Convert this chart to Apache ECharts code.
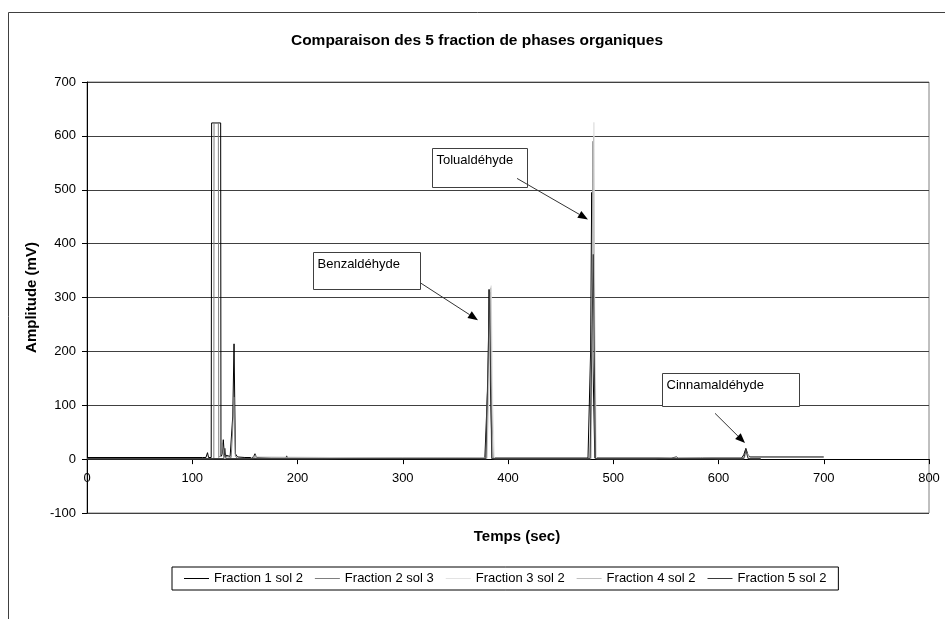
<!DOCTYPE html>
<html><head><meta charset="utf-8">
<script src="https://cdn.jsdelivr.net/npm/echarts@6/dist/echarts.min.js"></script>
<style>html,body{margin:0;padding:0;background:#fff}#c{width:945px;height:619px}</style>
</head><body><div id="c"></div>
<script>
const chartTitle = 'Comparaison des 5 fraction de phases organiques';
const xName = 'Temps (sec)';
const yName = 'Amplitude (mV)';
const seriesNames = ['Fraction 1 sol 2','Fraction 2 sol 3','Fraction 3 sol 2','Fraction 4 sol 2','Fraction 5 sol 2'];
const seriesColors = ['#000000','#7f7f7f','#e3e3e3','#c0c0c0','#3a3a3a'];
const xMin = 0, xMax = 800, xStep = 100;
const yMin = -100, yMax = 700, yStep = 100;

// [time (sec), amplitude (mV)]
const fraction1 = [[0,3],[110,3],[113,3],[114.5,12],[115.5,3],[118,3],[118.4,624],[127,624],[127.3,5],[128.5,10],[129.5,36],[130.5,8],[132,5],[136,5],[138.5,80],[139.7,214],[141,10],[143,4],[150,3],[158,3],[159.6,10],[161,3],[175,2],[189,2],[189.7,6],[190.5,2],[220,2],[300,2],[378,2],[381,150],[382,315],[383,160],[385,2],[476,2],[478.5,200],[479.5,495],[480.5,200],[482.5,2],[555,2],[560,4],[562,2],[583,2],[584,4],[585,2],[622,2],[624,8],[626,20],[628,8],[630,4],[700,4]];
const fraction2 = [[0,1],[112,1],[120.5,1],[120.7,624],[124.8,624],[125.2,3],[127.5,8],[128.5,30],[129.5,6],[137,3],[138.5,60],[139.6,115],[141,5],[143,1],[159,1],[160,8],[161,1],[230,1],[379,1],[380.5,120],[383,300],[384.5,100],[386,1],[478,1],[479.5,250],[480.8,590],[482,200],[483.5,1],[624,1],[626.5,15],[629,1],[640,1]];
const fraction3 = [[0,1],[225,1],[226,2],[380,2],[382,130],[384,322],[385.5,100],[387,1],[479,1],[480.5,300],[481.6,625],[482.5,250],[484,1],[540,1],[560,2],[600,1],[624,1],[627,10],[630,1],[640,1]];
const fraction4 = [[0,1],[155,1],[157,4],[158,1],[380,1],[383.5,318],[385,1],[479,1],[481.3,600],[483,1],[624,1],[626.5,12],[629,1],[640,1]];
const fraction5 = [[0,1],[130,1],[131,20],[132,1],[379,1],[382.5,310],[384.5,1],[478,1],[481,380],[483,1],[624,1],[626,18],[628,1],[640,1]];
const seriesData = [fraction1, fraction2, fraction3, fraction4, fraction5];

// annotation boxes [x1, yTop, x2, yBottom] and arrows, in data units
const annotationTexts = ['Benzaldéhyde','Tolualdéhyde','Cinnamaldéhyde'];
const annotationBoxes = [[214.7,384,316.4,315],[327.8,577,418,504.6],[546,159.6,676.5,98.3]];
const annotationArrows = [[[317.3,326.5],[371.5,258]],[[408.6,521],[476,445]],[[596.7,85],[625.2,29.7]]];

const FONT = '"Liberation Sans", Arial, sans-serif';
const W = 945, H = 619;
const gridL = 87, gridR = 16, gridT = 82, gridB = 106;
const gridH = H - gridT - gridB;
const zeroOffset = -gridH * (0 - yMin) / (yMax - yMin);

const chart = echarts.init(document.getElementById('c'), null, {renderer:'canvas'});
chart.setOption({
  animation:false,
  backgroundColor:'#fff',
  title:{text:chartTitle,left:472,textAlign:'center',top:28,
    textStyle:{fontFamily:FONT,fontSize:15.5,fontWeight:'bold',color:'#000'}},
  grid:{left:gridL,right:gridR,top:gridT,bottom:gridB,show:true,borderColor:'#808080',borderWidth:1},
  legend:{left:172,top:567,orient:'horizontal',icon:'rect',itemWidth:25,itemHeight:1,itemGap:12,
    padding:[5,12],borderColor:'#000',borderWidth:1,
    textStyle:{fontFamily:FONT,fontSize:13,color:'#000'},
    data:seriesNames},
  xAxis:{type:'value',min:xMin,max:xMax,interval:xStep,offset:zeroOffset,
    name:xName,nameLocation:'middle',nameGap:70,
    nameTextStyle:{fontFamily:FONT,fontSize:15,fontWeight:'bold',color:'#000',padding:[0,0,0,18]},
    axisLine:{onZero:false,lineStyle:{color:'#000',width:1}},
    axisTick:{show:true,length:5,lineStyle:{color:'#000'}},
    axisLabel:{margin:13,fontFamily:FONT,fontSize:13,color:'#000'},
    splitLine:{show:false}},
  yAxis:{type:'value',min:yMin,max:yMax,interval:yStep,
    name:yName,nameLocation:'middle',nameGap:37,
    nameTextStyle:{fontFamily:FONT,fontSize:15,fontWeight:'bold',color:'#000'},
    axisLine:{show:true,lineStyle:{color:'#000',width:1}},
    axisTick:{show:true,length:5,lineStyle:{color:'#000'}},
    axisLabel:{margin:11,fontFamily:FONT,fontSize:13,color:'#000'},
    splitLine:{show:true,lineStyle:{color:'#404040',width:1}}},
  series:seriesNames.map((n,i)=>({
    name:n,type:'line',data:seriesData[i],symbol:'none',showSymbol:false,
    lineStyle:{color:seriesColors[i],width:1},itemStyle:{color:seriesColors[i]},
    z:2+i
  }))
});

function arrowHead(p,q,len,half){
  const dx=q[0]-p[0], dy=q[1]-p[1], L=Math.hypot(dx,dy), ux=dx/L, uy=dy/L;
  const bx=q[0]-ux*len, by=q[1]-uy*len;
  return [[q[0],q[1]],[bx-uy*half,by+ux*half],[bx+uy*half,by-ux*half]];
}
const g=[{type:'rect',silent:true,z:-10,shape:{x:8.5,y:12.5,width:1000,height:700},style:{fill:'none',stroke:'#404040',lineWidth:1}}];
annotationTexts.forEach((t,i)=>{
  const b=annotationBoxes[i];
  const p1=chart.convertToPixel({gridIndex:0},[b[0],b[1]]);
  const p2=chart.convertToPixel({gridIndex:0},[b[2],b[3]]);
  const x=Math.round(p1[0])+0.5, y=Math.round(p1[1])+0.5;
  g.push({type:'rect',z:100,shape:{x:x,y:y,width:Math.round(p2[0]-p1[0]),height:Math.round(p2[1]-p1[1])},style:{fill:'#fff',stroke:'#404040',lineWidth:1}});
  g.push({type:'text',z:101,x:x+4,y:y+5,style:{text:t,font:'13px '+FONT,fill:'#000'}});
  const a=annotationArrows[i];
  const q1=chart.convertToPixel({gridIndex:0},a[0]);
  const q2=chart.convertToPixel({gridIndex:0},a[1]);
  const head=arrowHead(q1,q2,10,4);
  const mid=[(head[1][0]+head[2][0])/2,(head[1][1]+head[2][1])/2];
  g.push({type:'line',z:100,shape:{x1:q1[0],y1:q1[1],x2:mid[0],y2:mid[1]},style:{stroke:'#333',lineWidth:1}});
  g.push({type:'polygon',z:100,shape:{points:head},style:{fill:'#000'}});
});
chart.setOption({graphic:g});
</script></body></html>
